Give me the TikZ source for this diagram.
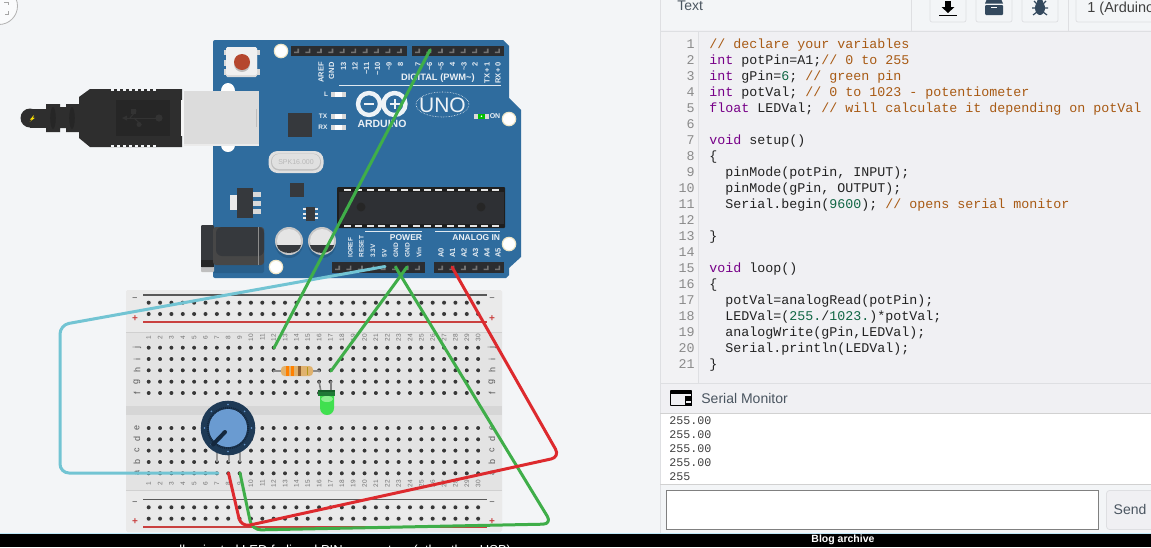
\documentclass[tikz,border=0pt]{standalone}
\usepackage{fontspec}
\setmainfont{Liberation Sans}
\setmonofont{Liberation Mono}
\usetikzlibrary{shapes.geometric,calc}
\definecolor{canvas}{HTML}{F3F5F7}
\definecolor{panelbg}{HTML}{F0F0F3}
\definecolor{gutterbg}{HTML}{F2F2F4}
\definecolor{rulegray}{HTML}{DEDFE2}
\definecolor{board}{HTML}{2F6C9E}
\definecolor{boarddark}{HTML}{285E8A}
\definecolor{chipdark}{HTML}{36393D}
\definecolor{hdr}{HTML}{2B2D30}
\definecolor{plug}{HTML}{2E2E2E}
\definecolor{plugdark}{HTML}{262626}
\definecolor{metal}{HTML}{DCDCDC}
\definecolor{bbbg}{HTML}{E3E3E3}
\definecolor{bbgap}{HTML}{D6D6D6}
\definecolor{bbline}{HTML}{D0D0D0}
\definecolor{railred}{HTML}{C9403F}
\definecolor{wgreen}{HTML}{3FAE49}
\definecolor{wred}{HTML}{DD2A2E}
\definecolor{wcyan}{HTML}{72C4D3}
\definecolor{cmt}{HTML}{A85A14}
\definecolor{kwd}{HTML}{770088}
\definecolor{num}{HTML}{116644}
\definecolor{codetx}{HTML}{222222}
\definecolor{gutnum}{HTML}{8A8A8A}
\definecolor{iconblue}{HTML}{34495E}
\definecolor{uitext}{HTML}{4A5560}
\definecolor{resetred}{HTML}{B5472E}
\definecolor{ringcream}{HTML}{EFE6C8}
\definecolor{restan}{HTML}{E0B26E}
\definecolor{ledgreen}{HTML}{40E04F}
\definecolor{ledlight}{HTML}{8CF090}
\definecolor{ledbase}{HTML}{1F7A36}
\definecolor{ledbasedk}{HTML}{17602A}
\definecolor{potdark}{HTML}{1E3A56}
\definecolor{potring}{HTML}{14283E}
\definecolor{potblue}{HTML}{6A9BD1}
\newcommand{\cmtx}[1]{\textcolor{cmt}{#1}}
\newcommand{\kwdx}[1]{\textcolor{kwd}{#1}}
\newcommand{\numx}[1]{\textcolor{num}{#1}}
\tikzset{
  wirebase/.style={line width=3pt,rounded corners=9pt,line cap=round,line join=round},
  codetext/.style={inner sep=0pt,anchor=base west,font=\ttfamily\fontsize{13.33}{16}\selectfont,text=codetx},
  gutter/.style={inner sep=0pt,anchor=base east,font=\ttfamily\fontsize{13.33}{16}\selectfont,text=gutnum},
  serialtext/.style={inner sep=0pt,anchor=base west,font=\ttfamily\fontsize{11.67}{14}\selectfont,text=black!75},
  pinlabT/.style={inner sep=0pt,rotate=90,anchor=east,text=white!88!board,font=\bfseries\fontsize{7.5}{8}\selectfont},
  pinlabB/.style={inner sep=0pt,rotate=90,anchor=west,text=white!88!board,font=\bfseries\fontsize{6.5}{7}\selectfont},
  boardtx/.style={inner sep=0pt,text=white!90!board,font=\bfseries\fontsize{8.5}{9}\selectfont},
  bbnum/.style={inner sep=0pt,rotate=90,text=black!55,font=\fontsize{6.5}{7}\selectfont},
  bbrow/.style={inner sep=0pt,rotate=90,text=black!65,font=\fontsize{9}{10}\selectfont},
  uitx/.style={inner sep=0pt,text=uitext,font=\fontsize{14}{16}\selectfont},
  toolbtn/.style={draw=rulegray,fill=canvas,rounded corners=2pt,line width=.7pt},
  railplus/.style={inner sep=0pt,font=\bfseries\fontsize{10}{10}\selectfont,text=railred},
  railminus/.style={inner sep=0pt,font=\bfseries\fontsize{9}{10}\selectfont,text=black!55},
}
\begin{document}
\begin{tikzpicture}[x=1pt,y=-1pt,line width=.8pt]
\useasboundingbox (0,0) rectangle (1151,547);
% ---- backgrounds
\fill[canvas] (0,0) rectangle (1151,547);
\fill[panelbg] (661,30) rectangle (1151,383);
\fill[gutterbg] (661,32) rectangle (698,383);
\draw[rulegray] (698,32) -- (698,383);
\draw[rulegray] (660,0) -- (660,533);
\draw[rulegray] (660,31.5) -- (1151,31.5);
\draw[rulegray] (660,383) -- (1151,383);
% ---- corner zoom button
\begin{scope}
\clip (0,0) rectangle (30,30);
\draw[black!30,fill=white!60!canvas] (-1,6) circle (18.5);
\draw[black!35] (4,2) -- (8,2) -- (8,5) (8,11) -- (8,14) -- (5,14);
\end{scope}
% ---- USB plug
\fill[plug] (30,118) circle (9.5);
\fill[plug] (30,108.5) rectangle (46,127.5);
\fill[yellow!85!orange] (34,115) -- (30,119.5) -- (32,119.5) -- (29.5,122) -- (35,117.8) -- (33,117.8) -- cycle;
\fill[plug] (46,104) -- (60,104) -- (60,107) -- (66,107) -- (66,104) -- (80,104) -- (80,132) -- (66,132) -- (66,128) -- (60,128) -- (60,132) -- (46,132) -- cycle;
\fill[plugdark] (53,118) ellipse (2.8 and 11);
\fill[plugdark] (72,118) ellipse (2.8 and 11);
\fill[plug] (79,97) -- (90,89) -- (182,89) -- (182,147) -- (90,147) -- (79,138) -- cycle;
\foreach \xx in {111,117,...,153} {
  \fill[canvas] (\xx,89) rectangle ++(3,1.8);
  \fill[canvas] (\xx,145.2) rectangle ++(3,1.8);
}
\fill[plugdark] (116,100) rectangle (170,136);
\draw[black!80,line width=1pt] (124,118) -- (159,118);
\fill[black!80] (159,118) circle (3.6);
\fill[black!80] (122,118) -- (127,115.5) -- (127,120.5) -- cycle;
\draw[black!80,line width=1pt] (130,118) -- (136,111) -- (133,111);
\fill[black!80] (130.5,108.5) rectangle (135.5,113.5);
\draw[black!80,line width=1pt] (134,118) -- (141,124.5) -- (137,124.5);
\fill[black!80] (139,124.5) circle (2.5);
% ---- Arduino board
\fill[board] (213,42) arc (180:270:2) -- (503,40) -- (509,46) -- (509,98) -- (521,110) -- (521,257) -- (509,268) -- (509,275) -- (506,278) -- (215,278) arc (90:180:2) -- cycle;
\fill[white!90!canvas] (228,91) ellipse (7 and 8);
\fill[white!90!canvas] (228,145) ellipse (7 and 7);
% metal USB socket
\fill[white!70!metal] (181,100) rectangle (185,136);
\fill[metal] (184,91) rectangle (259,146);
\fill[black!8] (184,143.5) rectangle (259,146);
\fill[black!25] (255.5,109) rectangle (256.5,127);
% reset button
\fill[black!15] (224,50) rectangle (260,55);
\fill[black!15] (224,60) rectangle (228,66);
\fill[black!15] (224,69) rectangle (260,75);
\fill[black!14,rounded corners=1.5pt] (226,47) rectangle (257,77);
\fill[black!6,rounded corners=1.5pt] (226,47) rectangle (257,75);
\fill[black!25] (242,64) circle (8);
\fill[resetred] (242,62) circle (8);
% mounting holes
\foreach \hx/\hy in {281/51,276/267,509/119,509/244} {
  \fill[ringcream] (\hx,\hy) circle (7.3);
  \fill[white] (\hx,\hy) circle (6);
}
% headers
\fill[hdr] (291,46) rectangle (407,56);
\fill[hdr] (412,46) rectangle (504,56);
\fill[hdr] (332,262) rectangle (425,273);
\fill[hdr] (434,262) rectangle (504,273);
\foreach \i in {0,...,9} \fill[black!55] ({297+11.42*\i-3},53) -- ++(5,0) -- ++(0,-4.5) -- ++(-1.6,0) -- ++(0,3) -- ++(-3.4,0) -- cycle;
\foreach \i in {0,...,7} \fill[black!55] ({418+11.42*\i-3},53) -- ++(5,0) -- ++(0,-4.5) -- ++(-1.6,0) -- ++(0,3) -- ++(-3.4,0) -- cycle;
\foreach \i in {0,...,7} \fill[black!55] ({338+11.42*\i-3},270) -- ++(5,0) -- ++(0,-4.5) -- ++(-1.6,0) -- ++(0,3) -- ++(-3.4,0) -- cycle;
\foreach \i in {0,...,5} \fill[black!55] ({441+11.42*\i-3},270) -- ++(5,0) -- ++(0,-4.5) -- ++(-1.6,0) -- ++(0,3) -- ++(-3.4,0) -- cycle;
% pin labels
\node[pinlabT] (tAREF) at (321,62) {AREF};
\node[pinlabT] (tGND) at (331.5,62) {GND};
\node[pinlabT] (t13) at (343.5,62) {13};
\node[pinlabT] (t12) at (355,62) {12};
\node[pinlabT] (t11) at (366.5,62) {\textasciitilde 11};
\node[pinlabT] (t10) at (377.5,62) {\textasciitilde 10};
\node[pinlabT] (t9) at (389,62) {\textasciitilde 9};
\node[pinlabT] (t8) at (400.5,62) {8};
\node[pinlabT] (t7) at (418,62) {7};
\node[pinlabT] (t6) at (429.5,62) {\textasciitilde 6};
\node[pinlabT] (t5) at (441,62) {\textasciitilde 5};
\node[pinlabT] (t4) at (452.5,62) {4};
\node[pinlabT] (t3) at (464,62) {\textasciitilde 3};
\node[pinlabT] (t2) at (475,62) {2};
\node[pinlabT] (tTX) at (487,62) {TX\,+\,1};
\node[pinlabT] (tRX) at (498,62) {RX\,+\,0};
\node[boardtx,anchor=east,font=\bfseries\fontsize{9.3}{10}\selectfont] (digital) at (475,78.5) {DIGITAL (PWM\textasciitilde)};
\draw[white!85!board] (339,85) -- (501,85);
\node[pinlabB] (bIOREF) at (350.5,258) {IOREF};
\node[pinlabB] (bRESET) at (361.5,258) {RESET};
\node[pinlabB] (b33) at (373,258) {3.3V};
\node[pinlabB] (b5V) at (384.5,258) {5V};
\node[pinlabB] (bG1) at (396,258) {GND};
\node[pinlabB] (bG2) at (407.5,258) {GND};
\node[pinlabB] (bVin) at (419,258) {Vin};
\node[pinlabB,font=\bfseries\fontsize{7.5}{8}\selectfont] (bA0) at (441,258) {A0};
\node[pinlabB,font=\bfseries\fontsize{7.5}{8}\selectfont] (bA1) at (452.5,258) {A1};
\node[pinlabB,font=\bfseries\fontsize{7.5}{8}\selectfont] (bA2) at (464,258) {A2};
\node[pinlabB,font=\bfseries\fontsize{7.5}{8}\selectfont] (bA3) at (475.5,258) {A3};
\node[pinlabB,font=\bfseries\fontsize{7.5}{8}\selectfont] (bA4) at (487,258) {A4};
\node[pinlabB,font=\bfseries\fontsize{7.5}{8}\selectfont] (bA5) at (498,258) {A5};
\draw[white!85!board] (365,231) -- (422,231);
\draw[white!85!board] (435,231) -- (500,231);
\node[boardtx] (powerlab) at (406,237.5) {POWER};
\node[boardtx,anchor=east] (analoglab) at (500.5,237.5) {ANALOG IN};
% LEDs
\foreach \ly in {94,116,127} {
  \fill[black!15] (331,{\ly-2.5}) rectangle (346,{\ly+2.5});
  \fill[white] (335,{\ly-2.5}) rectangle (342,{\ly+2.5});
}
\node[boardtx,font=\bfseries\fontsize{6.5}{7}\selectfont] (ledL) at (326,94) {L};
\node[boardtx,font=\bfseries\fontsize{6.5}{7}\selectfont] (ledTX) at (323,116) {TX};
\node[boardtx,font=\bfseries\fontsize{6.5}{7}\selectfont] (ledRX) at (323,127) {RX};
\fill[black!15] (474,113.5) rectangle (489,119);
\fill[green!75!black] (478,113.5) rectangle (485,119);
\fill[white] (481.5,116.2) circle (.9);
\node[boardtx,font=\bfseries\fontsize{7}{8}\selectfont] (onlab) at (495,116) {ON};
% logo
\draw[white!92!board,line width=4.4pt] (369,104) circle (11) (394.5,104) circle (11);
\draw[white!92!board,line width=2pt] (364,104) -- (374,104) (389.5,104) -- (399.5,104) (394.5,99) -- (394.5,109);
\node[boardtx,font=\bfseries\fontsize{10.5}{11}\selectfont] (ardlab) at (382,124) {ARDUINO};
\draw[white!90!board,densely dotted,line width=.6pt] (442.5,104.5) ellipse (26.5 and 12.5);
\node[inner sep=0pt,text=white!92!board,font=\fontsize{21}{22}\selectfont] (unolab) at (442.5,105) {UNO};
% small chips
\fill[chipdark] (288,113) rectangle (312,137);
\fill[black!12,rounded corners=9pt] (268.5,151) rectangle (323.5,173);
\fill[black!25,rounded corners=8pt] (271,153.5) rectangle (321,170.5);
\fill[black!12,rounded corners=7pt] (272,154) rectangle (320,169);
\node[inner sep=0pt,text=black!28,font=\fontsize{7}{8}\selectfont] (xtal) at (296,162) {SPK16.000};
\fill[chipdark] (290,183) rectangle (304,197);
\foreach \yy in {194,203,211} \fill[black!15] (253,{\yy-2.5}) rectangle (261,{\yy+2.5});
\fill[black!8] (230,195) rectangle (238,210);
\fill[chipdark] (237,188) rectangle (253,218);
\foreach \yy in {209,213.5,218} {\fill[black!8] (303,{\yy-1}) rectangle (307,{\yy+1}); \fill[black!8] (314,{\yy-1}) rectangle (318,{\yy+1});}
\fill[chipdark] (306,207) rectangle (315,221);
% capacitors
\foreach \cx in {289,322} {
  \fill[boarddark] (\cx,244) circle (14);
  \fill[black!22] (\cx,241) circle (14);
  \fill[black!10] (\cx,241) circle (12);
  \fill[chipdark] ({\cx-12},245) arc (180:0:12 and 8) -- cycle;
}
% DC jack
\fill[boarddark,rounded corners=2pt] (213,228) rectangle (264,273);
\fill[black!25,rounded corners=1pt] (201,262) rectangle (214,272);
\fill[chipdark,rounded corners=1pt] (201,225) rectangle (214,267);
\fill[black!85] (201,260) rectangle (214,267);
\fill[black!72,rounded corners=3pt] (213,227) rectangle (264,265);
\fill[chipdark,rounded corners=6pt] (216,227) rectangle (264,256);
\draw[black!45] (258.5,227) -- (258.5,265);
% ATmega
\fill[black!88,rounded corners=1pt] (337,187) rectangle (505,228);
\fill[chipdark!85!black] (339,192) rectangle (504,224);
\foreach \i in {0,...,13} {
  \fill[white!90!black] ({344+11.42*\i},188.5) rectangle ++(7,2);
  \fill[white!90!black] ({344+11.42*\i},224.5) rectangle ++(7,2);
}
\fill[black!85] (361,207) circle (4.5);
\fill[black!85] (481,207) circle (4.5);
% ---- breadboard
\fill[bbbg,rounded corners=2pt] (126,290) rectangle (502,532);
\fill[white,opacity=.25] (126,290) rectangle (502,332);
\fill[white,opacity=.25] (126,490) rectangle (502,532);
\draw[bbline] (126,332) -- (502,332);
\draw[bbline] (126,490) -- (502,490);
\fill[bbgap] (126,406) rectangle (502,415);
\draw[black!65,line width=1.1pt] (143,295) -- (487,295);
\draw[railred,line width=1.1pt] (143,322) -- (487,322);
\draw[black!65,line width=1.1pt] (143,499.5) -- (487,499.5);
\draw[railred,line width=1.1pt] (143,527) -- (487,527);
\node[railminus] (minA) at (135,299) {--};
\node[railplus] (plusA) at (135,319) {+};
\node[railminus] (minB) at (135,503) {--};
\node[railplus] (plusB) at (135,522) {+};
\node[railminus] (minC) at (492,299) {--};
\node[railplus] (plusC) at (492,319) {+};
\node[railminus] (minD) at (492,503) {--};
\node[railplus] (plusD) at (492,522) {+};
\foreach \c in {0,...,29} {
  \pgfmathsetmacro{\cxx}{148.7+11.36*\c}
  \foreach \ry in {302.7,314,347.7,359,370.3,381.7,393,428,439.3,450.6,462,473.3,507.3,518.7} {
    \fill[black!9] (\cxx,\ry) circle (3);
    \fill[black!78] (\cxx,\ry) circle (2);
  }
  \pgfmathtruncatemacro{\cn}{\c+1}
  \node[bbnum] (ntop\cn) at (\cxx,337.5) {\cn};
  \node[bbnum] (nbot\cn) at (\cxx,483.5) {\cn};
}
\foreach \rx/\sd in {137/L,492/R} {
  \foreach \rl/\ry in {j/347.7,i/359,h/370.3,g/381.7,f/393,e/428,d/439.3,c/450.6,b/462,a/473.3} {
    \node[bbrow] (row\sd\rl) at (\rx,\ry) {\rl};
  }
}
% resistor
\draw[black!45,line width=1.6pt] (273,371) -- (320,371);
\fill[restan,rounded corners=3.5pt] (281,366) rectangle (313,376);
\fill[orange] (286,366.3) rectangle (288.5,375.7);
\fill[orange] (291,366.3) rectangle (293.5,375.7);
\fill[brown!75!black] (297.5,366.3) rectangle (301,375.7);
\fill[black!35!brown!60!yellow] (306.5,367) rectangle (307.3,375);
% LED
\draw[black!50,line width=1.6pt] (319,381) -- (321,392) (331,381) -- (331,392);
\fill[ledgreen] (320,394) -- (334,394) -- (334,408) arc (0:180:7) -- cycle;
\fill[ledbase] (318,390) rectangle (335,396);
\fill[ledbasedk] (318,390) rectangle (335,392);
\fill[ledlight] (327,399) ellipse (6 and 3);
% potentiometer
\draw[black!40,line width=2pt] (217,451) -- (217,462) (228.5,451) -- (228.5,462) (240,451) -- (240,462);
\fill[potdark] (228,428) circle (27.3);
\foreach \a in {0,45,...,315} \fill[potblue] ({228+23.5*cos(\a)},{428+23.5*sin(\a)}) circle (.9);
\draw[potring,line width=2.6pt,dash pattern=on 1pt off .9pt] (228,428) circle (20);
\fill[potblue] (228,428) circle (19);
\draw[potring,line width=4pt,line cap=round] (225,432) -- (213,444.5);
% ---- wires
\coordinate (pin5V) at (385,266.5);
\coordinate (pinG1) at (395.5,267);
\coordinate (pinG2) at (407,267);
\coordinate (pinA1) at (452,267);
\coordinate (pin6) at (430,50);
\coordinate (bbj12) at (274,348);
\coordinate (bbh17) at (331,371);
\coordinate (bbaLeft) at (218,473);
\coordinate (bbaMid) at (228.5,473);
\coordinate (bbaRight) at (240,473);
\draw[wirebase,wcyan] (pin5V) -- (60,325) -- (60,473) -- (bbaLeft);
\draw[wirebase,wgreen] (pin6) -- (bbj12);
\draw[wirebase,wgreen] (pinG2) -- (bbh17);
\draw[wirebase,wgreen] (pinG1) -- (552,524) -- (252,530) -- (bbaRight);
\draw[wirebase,wred] (pinA1) -- (560,457) -- (241,527) -- (bbaMid);
% ---- toolbar
\node[uitx,anchor=base west] (texttab) at (677,10) {Text};
\draw[rulegray] (911,0) -- (911,31) (1068,0) -- (1068,31);
\begin{scope}
\clip (0,0) rectangle (1151,31);
\draw[toolbtn] (930,-3) rectangle (966,22);
\draw[toolbtn] (976,-3) rectangle (1012,22);
\draw[toolbtn] (1022,-3) rectangle (1058,22);
\draw[toolbtn] (1076,-3) rectangle (1155,22);
\fill[black] (945,1) rectangle (951,7);
\fill[black] (941.5,7) -- (954.5,7) -- (948,13) -- cycle;
\fill[black] (939,14.5) rectangle (957,16);
\fill[iconblue,rounded corners=1pt] (985,5) rectangle (1003,15);
\fill[iconblue] (987,-1) -- (1001,-1) -- (1003,3.5) -- (985,3.5) -- cycle;
\draw[white] (991,7.5) -- (997,7.5);
\fill[iconblue] (1040,8) ellipse (5 and 7);
\fill[iconblue] (1040,1.5) circle (3);
\draw[iconblue,line width=1.2pt] (1034,1) -- (1037,4) (1046,1) -- (1043,4) (1032,8) -- (1037,8) (1048,8) -- (1043,8) (1033,15) -- (1037,12) (1047,15) -- (1043,12);
\node[uitx,anchor=base west,text=black!75,font=\fontsize{14.5}{16}\selectfont] (boardsel) at (1087,12) {1 (Arduino};
\end{scope}
% ---- code
\foreach \n in {1,...,21} {
  \pgfmathsetmacro{\ny}{48.5+16*(\n-1)}
  \node[gutter] (gut\n) at (695,\ny) {\n};
}
\node[codetext] (c1) at (709,48.5) {\cmtx{// declare your variables}};
\node[codetext] (c2) at (709,64.5) {\kwdx{int} potPin=A1;\cmtx{// 0 to 255}};
\node[codetext] (c3) at (709,80.5) {\kwdx{int} gPin=\numx{6}; \cmtx{// green pin}};
\node[codetext] (c4) at (709,96.5) {\kwdx{int} potVal; \cmtx{// 0 to 1023 - potentiometer}};
\node[codetext] (c5) at (709,112.5) {\kwdx{float} LEDVal; \cmtx{// will calculate it depending on potVal}};
\node[codetext] (c7) at (709,144.5) {\kwdx{void} setup()};
\node[codetext] (c8) at (709,160.5) {\{};
\node[codetext] (c9) at (725,176.5) {pinMode(potPin, INPUT);};
\node[codetext] (c10) at (725,192.5) {pinMode(gPin, OUTPUT);};
\node[codetext] (c11) at (725,208.5) {Serial.begin(\numx{9600}); \cmtx{// opens serial monitor}};
\node[codetext] (c13) at (709,240.5) {\}};
\node[codetext] (c15) at (709,272.5) {\kwdx{void} loop()};
\node[codetext] (c16) at (709,288.5) {\{};
\node[codetext] (c17) at (725,304.5) {potVal=analogRead(potPin);};
\node[codetext] (c18) at (725,320.5) {LEDVal=(\numx{255.}/\numx{1023.})*potVal;};
\node[codetext] (c19) at (725,336.5) {analogWrite(gPin,LEDVal);};
\node[codetext] (c20) at (725,352.5) {Serial.println(LEDVal);};
\node[codetext] (c21) at (709,368.5) {\}};
% ---- serial monitor
\fill[panelbg] (661,383.5) rectangle (1151,413);
\draw[black!18] (660,413.5) -- (1151,413.5);
\fill[white] (661,414) rectangle (1151,484);
\draw[black!18] (660,484.5) -- (1151,484.5);
\draw[black,line width=.9pt,rounded corners=.5pt] (670.5,390.5) rectangle (691.5,405.5);
\fill[black] (670.5,390.5) rectangle (691.5,393.5);
\fill[black] (685,396) rectangle (691.5,405.5);
\fill[panelbg] (686,401) rectangle (690.5,403);
\node[uitx,anchor=base west] (serialtitle) at (701,403) {Serial Monitor};
\node[serialtext] (s1) at (669,424) {255.00};
\node[serialtext] (s2) at (669,438) {255.00};
\node[serialtext] (s3) at (669,452) {255.00};
\node[serialtext] (s4) at (669,466) {255.00};
\node[serialtext] (s5) at (669,480) {255};
\draw[black!50,fill=white] (666.5,490.5) rectangle (1098.5,529.5);
\begin{scope}
\clip (1100,485) rectangle (1151,533);
\draw[draw=rulegray,fill=panelbg,rounded corners=3pt] (1106.5,490.5) rectangle (1160,529.5);
\end{scope}
\node[uitx,anchor=base] (sendbtn) at (1130,514) {Send};
% ---- bottom bar
\fill[black] (0,533) rectangle (1151,547);
\fill[cyan!25!white] (0,532.6) rectangle (1151,533.4);
\node[inner sep=0pt,anchor=base,text=white,font=\bfseries\fontsize{10.5}{11}\selectfont] (blogarch) at (843,542) {Blog archive};
\begin{scope}
\clip (0,534) rectangle (1151,547);
\node[inner sep=0pt,anchor=base west,text=white,font=\fontsize{13}{14}\selectfont] (cuttext) at (179,554) {lluminated LED fading d PIN connectors (other than USB)};
\end{scope}
\end{tikzpicture}
\end{document}
